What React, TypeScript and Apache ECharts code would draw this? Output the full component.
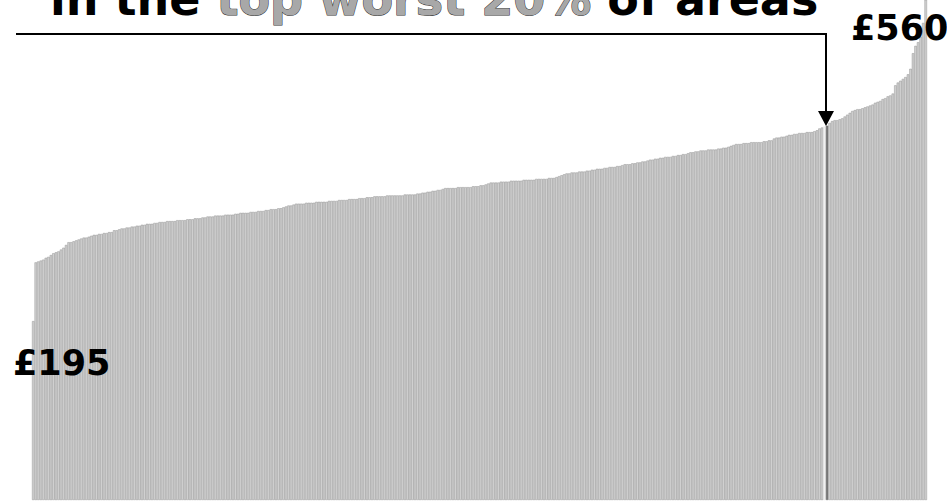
import React, { useEffect, useRef } from "react";
import * as echarts from "echarts";

const values: number[] = [
  195, 259, 260, 261, 262, 264, 265, 267, 269, 270,
  271, 273, 275, 278, 281, 281, 282, 283, 284, 285,
  286, 286, 287, 288, 289, 289, 290, 290, 291, 291,
  292, 292, 294, 294, 295, 296, 296, 297, 297, 298,
  298, 299, 299, 300, 300, 301, 301, 301, 302, 302,
  303, 303, 303, 304, 304, 304, 304, 305, 305, 305,
  305, 306, 306, 306, 307, 307, 307, 308, 308, 309,
  309, 309, 310, 310, 310, 310, 311, 311, 311, 311,
  312, 312, 313, 313, 313, 313, 314, 314, 314, 315,
  315, 315, 316, 316, 317, 317, 317, 318, 318, 319,
  320, 321, 321, 322, 323, 323, 323, 323, 324, 324,
  324, 324, 325, 325, 325, 325, 325, 326, 326, 326,
  326, 327, 327, 327, 327, 328, 328, 328, 328, 329,
  329, 329, 330, 330, 330, 331, 331, 331, 331, 331,
  332, 332, 332, 332, 332, 332, 332, 333, 333, 333,
  333, 333, 334, 334, 335, 335, 336, 336, 337, 337,
  338, 338, 339, 340, 340, 340, 340, 340, 341, 341,
  341, 341, 341, 341, 342, 342, 342, 343, 343, 344,
  345, 346, 346, 346, 346, 347, 347, 347, 347, 348,
  348, 348, 348, 348, 349, 349, 349, 349, 349, 350,
  350, 350, 350, 350, 351, 351, 351, 352, 353, 354,
  355, 356, 356, 357, 357, 357, 358, 358, 358, 359,
  359, 360, 360, 361, 361, 361, 362, 362, 363, 363,
  363, 364, 364, 365, 366, 366, 366, 367, 367, 368,
  368, 369, 369, 370, 371, 371, 372, 372, 373, 373,
  374, 374, 374, 375, 375, 376, 376, 377, 377, 378,
  379, 379, 380, 380, 381, 381, 381, 382, 382, 382,
  382, 383, 383, 384, 384, 385, 386, 387, 388, 388,
  388, 389, 389, 389, 390, 390, 390, 390, 390, 391,
  391, 392, 392, 394, 395, 395, 396, 396, 397, 398,
  398, 399, 399, 400, 400, 400, 401, 401, 401, 402,
  403, 405, 406, 407, 408, 411, 413, 414, 414, 415,
  416, 418, 420, 422, 424, 425, 426, 426, 427, 428,
  429, 430, 431, 433, 434, 435, 437, 438, 440, 441,
  443, 452, 455, 457, 459, 461, 464, 470, 487, 495,
  499, 505, 520, 560,
];

const categories: string[] = values.map((_, i) => String(i + 1));
const highlightIndex = 314;
const gapIndex = 313;
const minLabel = "£195";
const maxLabel = "£560";
const titleBefore = "in the ";
const titleHighlight = "top worst 20%";
const titleAfter = " of areas";

const FONT = "'DejaVu Sans', sans-serif";

export default function App() {
  const ref = useRef<HTMLDivElement>(null);
  useEffect(() => {
    if (!ref.current) return;
    const chart = echarts.init(ref.current, null, { renderer: "svg" });
    const data = values.map((v, i) => {
      if (i === highlightIndex)
        return { value: v, itemStyle: { color: "#7a7a7a", borderColor: "#6a6a6a" } };
      if (i === gapIndex)
        return { value: v, itemStyle: { color: "#f2f2f2", borderColor: "#e0e0e0" } };
      return v;
    });
    chart.setOption({
      animation: false,
      backgroundColor: "#ffffff",
      grid: { left: 32, right: 20, top: 0, bottom: 1 },
      xAxis: {
        type: "category",
        data: categories,
        show: false,
      },
      yAxis: {
        type: "value",
        min: 0,
        max: 545,
        show: false,
      },
      series: [
        {
          type: "bar",
          data,
          barCategoryGap: "0%",
          barGap: "0%",
          clip: true,
          z: 2,
          itemStyle: { color: "#d0d0d0", borderColor: "#969696", borderWidth: 0.5 },
          silent: true,
        },
      ],
      graphic: [
        {
          type: "text",
          x: 50,
          y: -1,
          z: 100,
          style: {
            text:
              "{a|" + titleBefore + "}{b|" + titleHighlight + "}{a|" + titleAfter + "}",
            verticalAlign: "middle",
            align: "left",
            rich: {
              a: { fill: "#000000", fontSize: 46, fontWeight: "bold", fontFamily: FONT },
              b: {
                fill: "#a8a8a8",
                stroke: "#333333",
                lineWidth: 1,
                fontSize: 46,
                fontWeight: "bold",
                fontFamily: FONT,
              },
            },
          },
        },
        {
          type: "polyline",
          z: 100,
          shape: { points: [[16, 34], [826, 34], [826, 113]] },
          style: { stroke: "#000000", lineWidth: 2, fill: null },
        },
        {
          type: "polygon",
          z: 100,
          shape: { points: [[818, 111], [834, 111], [826, 126]] },
          style: { fill: "#000000" },
        },
        {
          type: "text",
          x: 851,
          y: 28,
          z: 100,
          style: {
            text: maxLabel,
            fill: "#000000",
            fontSize: 35,
            fontWeight: "bold",
            fontFamily: FONT,
            verticalAlign: "middle",
            align: "left",
          },
        },
        {
          type: "text",
          x: 13,
          y: 363,
          z: 100,
          style: {
            text: minLabel,
            fill: "#000000",
            fontSize: 35,
            fontWeight: "bold",
            fontFamily: FONT,
            verticalAlign: "middle",
            align: "left",
          },
        },
      ],
    });
    return () => chart.dispose();
  }, []);
  return (
    <div
      ref={ref}
      style={{ position: "fixed", left: 0, top: 0, width: 947, height: 501, background: "#fff" }}
    />
  );
}
